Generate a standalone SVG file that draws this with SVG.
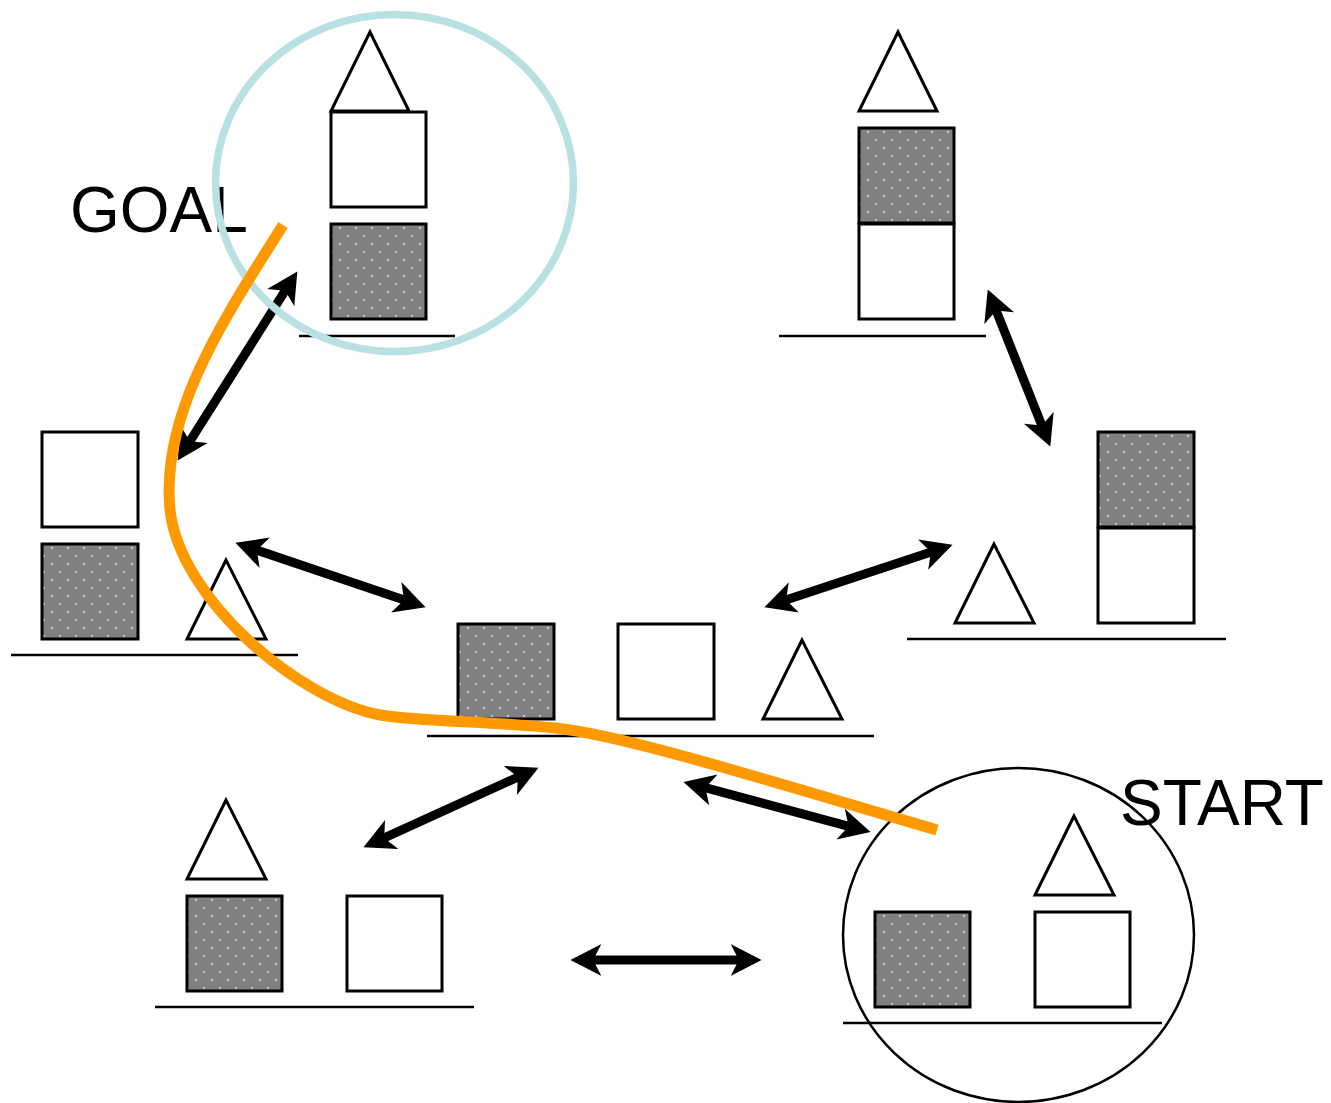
<svg xmlns="http://www.w3.org/2000/svg" width="1331" height="1103" viewBox="0 0 1331 1103">
  <style>
    .box { fill: #ffffff; stroke: #000000; stroke-width: 3; }
    .dark { fill: url(#dots); stroke: #000000; stroke-width: 3; }
    .tri { fill: #ffffff; stroke: #000000; stroke-width: 3; stroke-linejoin: miter; }
    .ground { stroke: #000000; stroke-width: 2.5; }
    .arrow { stroke: #000000; stroke-width: 9; fill: none; marker-start: url(#head); marker-end: url(#head); }
    .label { font-family: "Liberation Sans", Arial, sans-serif; font-size: 64px; fill: #000000; }
  </style>
  <defs>
    <pattern id="dots" patternUnits="userSpaceOnUse" width="16" height="16" x="0" y="0">
      <rect width="16" height="16" fill="#808080"/>
      <circle cx="4" cy="4" r="1.2" fill="#c8c8c8"/>
      <circle cx="12" cy="12" r="0.9" fill="#e6e6e6"/>
    </pattern>
    <marker id="head" markerUnits="userSpaceOnUse" markerWidth="32" markerHeight="34" viewBox="0 -16 31 32" refX="12" refY="0" orient="auto-start-reverse">
      <path d="M0,-15.5 L30,0 L0,15.5 L8,0 Z" fill="#000000"/>
    </marker>
  </defs>

  <!-- goal state: triangle on white block on dark block -->
  <g id="state-goal">
    <polygon class="tri" points="370,32 331,111 409,111"/>
    <rect class="box" x="331" y="112" width="95" height="95"/>
    <rect class="dark" x="331" y="224" width="95" height="95"/>
    <line class="ground" x1="299" y1="336" x2="455" y2="336"/>
  </g>

  <!-- triangle on dark block on white block -->
  <g id="state-top-right">
    <polygon class="tri" points="898,32 859,111 937,111"/>
    <rect class="dark" x="859" y="128" width="95" height="95"/>
    <rect class="box" x="859" y="224" width="95" height="95"/>
    <line class="ground" x1="779" y1="336" x2="986" y2="336"/>
  </g>

  <!-- white on dark, triangle alone -->
  <g id="state-left">
    <rect class="box" x="42" y="432" width="96" height="95"/>
    <rect class="dark" x="42" y="544" width="96" height="95"/>
    <polygon class="tri" points="226,560 187,639 266,639"/>
    <line class="ground" x1="11" y1="655" x2="298" y2="655"/>
  </g>

  <!-- everything on the table -->
  <g id="state-center">
    <rect class="dark" x="458" y="624" width="96" height="95"/>
    <rect class="box" x="618" y="624" width="96" height="95"/>
    <polygon class="tri" points="802,640 763,719 842,719"/>
    <line class="ground" x1="427" y1="736" x2="874" y2="736"/>
  </g>

  <!-- triangle alone, dark on white -->
  <g id="state-right">
    <polygon class="tri" points="994,544 955,623 1034,623"/>
    <rect class="dark" x="1098" y="432" width="96" height="95"/>
    <rect class="box" x="1098" y="528" width="96" height="95"/>
    <line class="ground" x1="907" y1="639" x2="1226" y2="639"/>
  </g>

  <!-- triangle on dark block, white block alone -->
  <g id="state-bottom-left">
    <polygon class="tri" points="226,800 187,879 266,879"/>
    <rect class="dark" x="187" y="896" width="95" height="95"/>
    <rect class="box" x="347" y="896" width="95" height="95"/>
    <line class="ground" x1="155" y1="1007" x2="474" y2="1007"/>
  </g>

  <!-- start state: dark block alone, triangle on white block -->
  <g id="state-start">
    <rect class="dark" x="875" y="912" width="95" height="95"/>
    <polygon class="tri" points="1074,816 1035,895 1114,895"/>
    <rect class="box" x="1035" y="912" width="95" height="95"/>
    <line class="ground" x1="843" y1="1023" x2="1162" y2="1023"/>
  </g>

  <!-- transitions between states -->
  <g id="connectors">
    <line class="arrow" x1="187.6" y1="444.8" x2="287.4" y2="287.2"/>
    <line class="arrow" x1="994.6" y1="306.7" x2="1043.4" y2="429.3"/>
    <line class="arrow" x1="253" y1="548.8" x2="408" y2="601.2"/>
    <line class="arrow" x1="934.9" y1="550.7" x2="782.1" y2="601.3"/>
    <line class="arrow" x1="521.6" y1="775.4" x2="380.4" y2="839.6"/>
    <line class="arrow" x1="701.4" y1="786.7" x2="852.6" y2="827.3"/>
    <line class="arrow" x1="589" y1="960" x2="743" y2="960"/>
  </g>

  <!-- highlight rings and labels -->
  <g id="goal-marker">
    <text class="label" x="70" y="232">GOAL</text>
    <ellipse cx="394.5" cy="183" rx="179" ry="168.5" fill="none" stroke="#b9e0e3" stroke-width="7.5"/>
  </g>
  <g id="start-marker">
    <ellipse cx="1018.5" cy="935" rx="175.5" ry="167" fill="none" stroke="#000000" stroke-width="2.5"/>
    <text class="label" x="1120" y="825">START</text>
  </g>

  <!-- solution path -->
  <path id="solution-path" d="M283,225 C230,310 160,410 170,510 C180,600 300,700 380,715 C420,722 520,722 570,730 C640,740 800,790 937,830" fill="none" stroke="#ff9900" stroke-width="11"/>
</svg>
